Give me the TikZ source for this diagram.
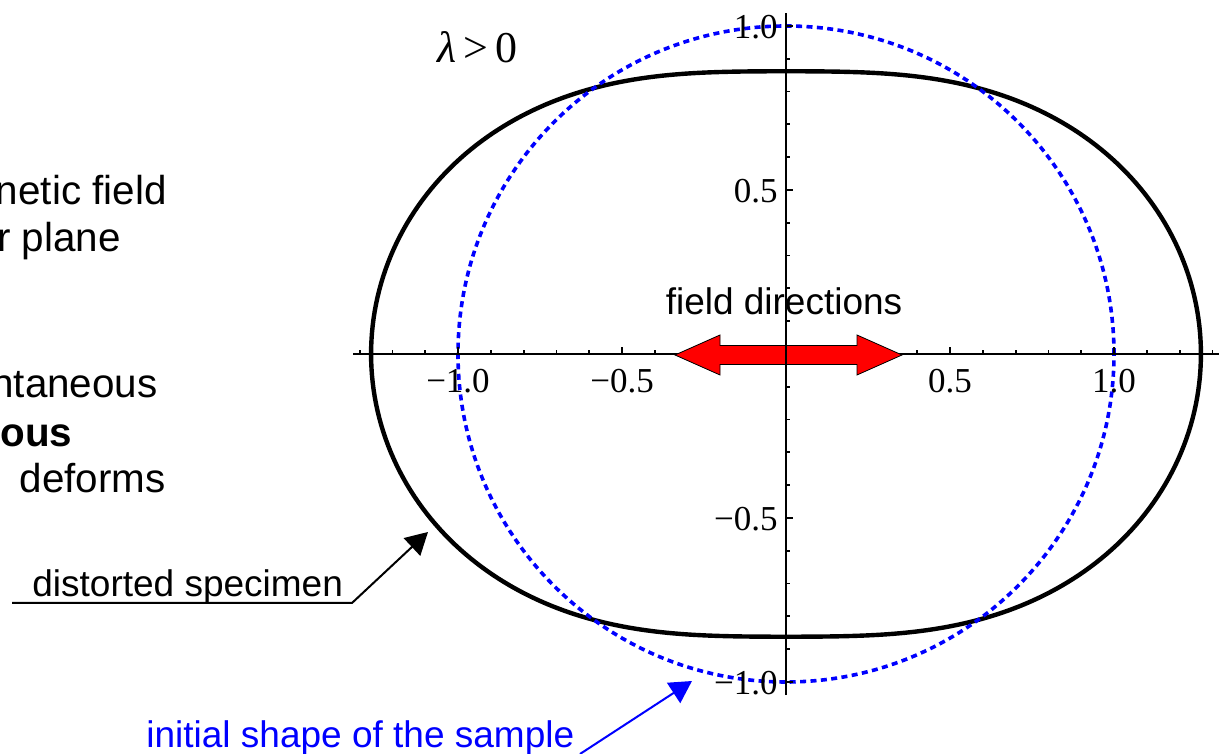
\documentclass[tikz,border=0pt]{standalone}
\usepackage{fontspec}
\setmainfont{Liberation Sans}
\newfontfamily\serifnum{Liberation Serif}
\usetikzlibrary{arrows.meta}
\begin{document}
\begin{tikzpicture}[x=0.5pt,y=0.5pt,
  txt/.style={inner sep=0pt, font=\fontsize{18.5}{22}\selectfont},
  sidetxt/.style={inner sep=0pt, font=\fontsize{20.2}{24}\selectfont},
  ticklbl/.style={inner sep=0pt, font=\serifnum\fontsize{17.5}{20}\selectfont},
  axisline/.style={line width=1.25pt},
  tickline/.style={line width=0.9pt},
  specimen/.style={line width=2.2pt},
  initial/.style={blue, line width=1.8pt, dash pattern=on 3pt off 2.2pt},
  leader/.style={line width=1pt, -{Triangle[length=11pt,width=12pt]}},
  fieldarrow/.style={fill=red, draw=black, line width=0.4pt}]
\useasboundingbox (0,0) rectangle (1222,754);

% left text (cut at the left edge)
\node[sidetxt, anchor=base east] (t1) at (167,549) {netic field};
\node[sidetxt, anchor=base east] (t2) at (121,502) {r plane};
\node[sidetxt, anchor=base east] (t3) at (158,356) {ntaneous};
\node[sidetxt, anchor=base west, font=\fontsize{20.2}{24}\selectfont\bfseries] (t4) at (0,307) {ous};
\node[sidetxt, anchor=base east] (t5) at (166,261) {deforms};

% plot
\begin{scope}[shift={(786,400)}, x=164pt, y=164pt]
  \draw[specimen] plot[domain=0:360, samples=361]
    ({(1.0635+0.2015*cos(2*\x))*cos(\x)}, {(1.0635+0.2015*cos(2*\x))*sin(\x)}) -- cycle;
  \draw[initial] (0,0) circle (1);
  \coordinate (xl) at (-1.32,0);
  \coordinate (xr) at (1.32,0);
  \coordinate (yb) at (0,-1.04);
  \coordinate (yt) at (0,1.04);
  \draw[axisline] (xl) -- (xr);
  \foreach \i in {-13,...,13} {\draw[tickline] (\i/10,0) -- (\i/10,0.011);}
  \foreach \i in {-10,-5,5,10} {\draw[tickline] (\i/10,0) -- (\i/10,0.02);}
  \foreach \i in {-10,...,10} {\draw[tickline] (0,\i/10) -- (0.011,\i/10);}
  \foreach \i in {-10,-5,5,10} {\draw[tickline] (0,\i/10) -- (0.02,\i/10);}
  \node[ticklbl, anchor=base] (xa) at (-1,-0.116) {−1.0};
  \node[ticklbl, anchor=base] (xb) at (-0.5,-0.116) {−0.5};
  \node[ticklbl, anchor=base] (xc) at (0.5,-0.116) {0.5};
  \node[ticklbl, anchor=base] (xd) at (1,-0.116) {1.0};
  \node[ticklbl, anchor=base east] (ya) at (-0.024,0.963) {1.0};
  \node[ticklbl, anchor=base east] (yb5) at (-0.024,0.463) {0.5};
  \node[ticklbl, anchor=base east] (yc) at (-0.024,-0.537) {−0.5};
  \node[ticklbl, anchor=base east] (yd) at (-0.024,-1.037) {−1.0};
\end{scope}

% field direction arrow
\draw[fieldarrow] (675,399) -- (720,419) -- (720,408.5) -- (857,408.5) -- (857,419)
  -- (902,399) -- (857,379) -- (857,389.5) -- (720,389.5) -- (720,379) -- cycle;
\draw[axisline] (yb) -- (yt);
\node[txt, anchor=base] (fd) at (784,439) {field directions};

\node[inner sep=0pt, anchor=base west, font=\serifnum\fontsize{22}{26}\selectfont] (lam) at (437,691) {\textit{λ}\,>\,0};

% leaders
\node[txt, anchor=base west] (ds) at (32,157) {distorted specimen};
\coordinate (ds1) at (12,151);
\coordinate (ds2) at (352,151);
\coordinate (dstip) at (428,222);
\draw[leader] (ds1) -- (ds2) -- (dstip);

\node[txt, anchor=base west, text=blue] (init) at (146,6) {initial shape of the sample};
\coordinate (in1) at (580,0);
\coordinate (intip) at (692,73);
\draw[leader, blue] (in1) -- (intip);
\end{tikzpicture}
\end{document}
